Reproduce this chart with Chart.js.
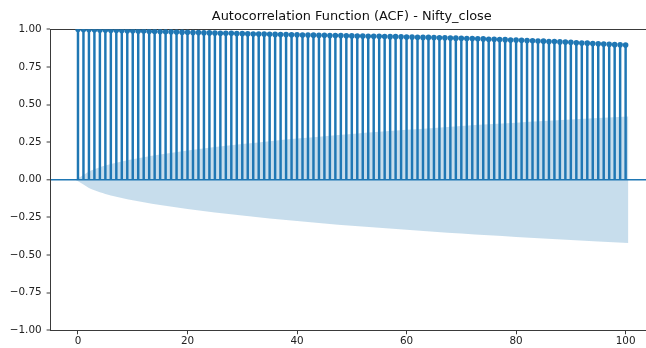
<!DOCTYPE html>
<html>
<head>
<meta charset="utf-8">
<script src="https://cdn.jsdelivr.net/npm/chart.js@4"></script>
<style>
    html, body { margin: 0; padding: 0; overflow: hidden; background: #fff; }
    #wrap { width: 646px; height: 348px; overflow: hidden; }
</style>
</head>
<body>
<div id="wrap"><canvas id="acf" width="670" height="348"></canvas></div>
<script>
// lags shown on the x axis
const lags = [
    0, 1, 2, 3, 4, 5, 6, 7, 8, 9, 10, 11, 12, 13, 14, 15, 16, 17, 18, 19,
    20, 21, 22, 23, 24, 25, 26, 27, 28, 29, 30, 31, 32, 33, 34, 35, 36, 37, 38, 39,
    40, 41, 42, 43, 44, 45, 46, 47, 48, 49, 50, 51, 52, 53, 54, 55, 56, 57, 58, 59,
    60, 61, 62, 63, 64, 65, 66, 67, 68, 69, 70, 71, 72, 73, 74, 75, 76, 77, 78, 79,
    80, 81, 82, 83, 84, 85, 86, 87, 88, 89, 90, 91, 92, 93, 94, 95, 96, 97, 98, 99,
    100
];

// autocorrelation at each lag
const acfValues = [
    1.000, 0.999, 0.998, 0.997, 0.996, 0.995, 0.994, 0.993, 0.992, 0.991,
    0.990, 0.989, 0.988, 0.987, 0.986, 0.985, 0.984, 0.983, 0.982, 0.981,
    0.980, 0.979, 0.978, 0.977, 0.976, 0.975, 0.974, 0.973, 0.973, 0.972,
    0.971, 0.970, 0.969, 0.968, 0.968, 0.967, 0.966, 0.965, 0.965, 0.964,
    0.963, 0.962, 0.962, 0.961, 0.960, 0.960, 0.959, 0.958, 0.958, 0.957,
    0.956, 0.955, 0.955, 0.954, 0.953, 0.953, 0.952, 0.951, 0.951, 0.950,
    0.949, 0.948, 0.947, 0.946, 0.946, 0.945, 0.944, 0.943, 0.942, 0.941,
    0.940, 0.939, 0.938, 0.937, 0.936, 0.934, 0.933, 0.932, 0.931, 0.929,
    0.928, 0.927, 0.925, 0.924, 0.922, 0.921, 0.919, 0.918, 0.916, 0.915,
    0.913, 0.911, 0.909, 0.908, 0.906, 0.904, 0.902, 0.900, 0.898, 0.897,
    0.895
];

// half-width of the confidence band
const bandLags = [-0.5, 1, 2, 3, 4, 5, 6, 8, 10, 12, 15, 20, 25, 30, 35, 40, 45,
    50, 55, 60, 65, 70, 75, 80, 85, 90, 95, 100.5];
const bandWidth = [0, 0.0315, 0.0545, 0.0703, 0.0831, 0.0942, 0.1041, 0.1214, 0.1365,
    0.1500, 0.1682, 0.1945, 0.2174, 0.2379, 0.2566, 0.2738, 0.2897, 0.3047, 0.3189,
    0.3322, 0.3449, 0.3570, 0.3686, 0.3797, 0.3904, 0.4006, 0.4105, 0.4200];

const xTicks = [0, 20, 40, 60, 80, 100];
const yTicks = [-1, -0.75, -0.5, -0.25, 0, 0.25, 0.5, 0.75, 1];

const blue = '#1f77b4';
const spine = '#3a3a3a';
const tickFont = { family: 'DejaVu Sans', size: 10.4 };

const stems = lags.map((lag, i) => ({ x: lag, y: [0, acfValues[i]] }));
const points = lags.map((lag, i) => ({ x: lag, y: acfValues[i] }));
const bandUpper = bandLags.map((lag, i) => ({ x: lag, y: bandWidth[i] }));
const bandLower = bandLags.map((lag, i) => ({ x: lag, y: -bandWidth[i] }));

new Chart(document.getElementById('acf'), {
    type: 'bar',
    data: {
        datasets: [
            {
                type: 'line',
                data: bandUpper,
                borderWidth: 0,
                pointRadius: 0,
                cubicInterpolationMode: 'monotone',
                backgroundColor: 'rgba(31, 119, 180, 0.25)',
                fill: '+1',
                order: 3
            },
            {
                type: 'line',
                data: bandLower,
                borderWidth: 0,
                pointRadius: 0,
                cubicInterpolationMode: 'monotone',
                fill: false,
                order: 4
            },
            {
                type: 'bar',
                data: stems,
                backgroundColor: blue,
                barThickness: 1.8,
                order: 2
            },
            {
                type: 'scatter',
                data: points,
                pointRadius: 2.8,
                pointBackgroundColor: blue,
                pointBorderWidth: 0,
                showLine: false,
                order: 1
            }
        ]
    },
    options: {
        responsive: false,
        animation: false,
        devicePixelRatio: 1,
        layout: { padding: { left: 0, right: 17, top: 0, bottom: 0 } },
        plugins: {
            legend: { display: false },
            tooltip: { enabled: false },
            title: {
                display: true,
                text: 'Autocorrelation Function (ACF) - Nifty_close',
                fullSize: false,
                color: '#111',
                font: { family: 'DejaVu Sans', size: 12.9, weight: 'normal', lineHeight: 1.2 },
                padding: { top: 8.5, bottom: 5.3 }
            }
        },
        scales: {
            x: {
                type: 'linear',
                position: 'bottom',
                min: -5,
                max: 105,
                offset: false,
                afterBuildTicks: scale => { scale.ticks = xTicks.map(v => ({ value: v })); },
                afterFit: scale => { scale.height = 17.7; },
                ticks: { color: '#222', font: tickFont, padding: 1, maxRotation: 0 },
                grid: { drawOnChartArea: false, offset: false, tickLength: 4, tickColor: spine, tickWidth: 1 },
                border: { display: true, color: spine, width: 1 }
            },
            xTop: {
                type: 'linear',
                position: 'top',
                min: -5,
                max: 105,
                afterFit: scale => { scale.height = 0; },
                ticks: { display: false },
                grid: { display: false },
                border: { display: true, color: spine, width: 1 }
            },
            y: {
                type: 'linear',
                min: -1,
                max: 1,
                afterBuildTicks: scale => { scale.ticks = yTicks.map(v => ({ value: v })); },
                afterFit: scale => { scale.width = 50.6; },
                ticks: {
                    color: '#222',
                    font: tickFont,
                    padding: 5,
                    callback: v => v.toFixed(2).replace('-', '\u2212')
                },
                grid: {
                    color: ctx => (ctx.tick && ctx.tick.value === 0 ? blue : 'rgba(0,0,0,0)'),
                    lineWidth: ctx => (ctx.tick && ctx.tick.value === 0 ? 1.6 : 0),
                    tickLength: 4,
                    tickColor: spine,
                    tickWidth: 1
                },
                border: { display: true, color: spine, width: 1 }
            }
        }
    }
});
</script>
</body>
</html>
